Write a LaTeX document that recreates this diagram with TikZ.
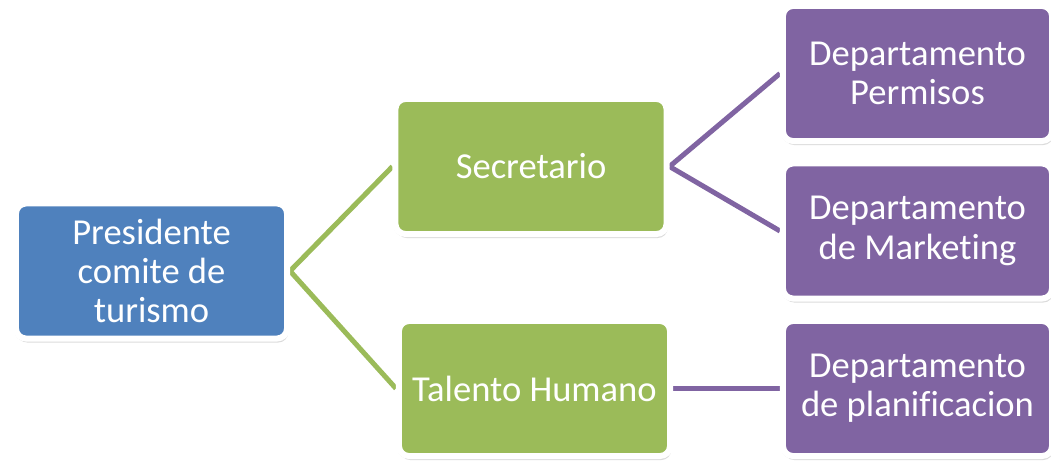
\documentclass[tikz,border=0pt]{standalone}
\usepackage{fontspec}
\setmainfont[Ligatures={NoCommon}]{Carlito}
\usepackage{tikz}
\usetikzlibrary{shadows,backgrounds,positioning}

\definecolor{presblue}{HTML}{4F81BD}
\definecolor{midgreen}{HTML}{9BBB59}
\definecolor{deptpurple}{HTML}{8064A2}

\begin{document}
\begin{tikzpicture}[
    x=0.025cm, y=-0.025cm,
    card/.style={draw=white, line width=0.15cm, rectangle, rounded corners=2.5mm, minimum width=6.775cm, minimum height=3.375cm, align=center, text=white, font=\fontsize{26}{28}\selectfont, inner sep=0pt,
        drop shadow={shadow xshift=0mm, shadow yshift=-0.4mm, shadow scale=1.012, opacity=0.12, fill=black},
        drop shadow={shadow xshift=0.3mm, shadow yshift=-1mm, opacity=0.14, fill=black}},
    pres/.style={card, fill=presblue},
    mid/.style={card, fill=midgreen},
    dept/.style={card, fill=deptpurple, minimum width=6.725cm},
    greenlink/.style={line width=0.125cm, color=midgreen},
    purplelink/.style={line width=0.125cm, color=deptpurple}
]
\useasboundingbox (0,0) rectangle (1051,463);

% Levels
\node[pres] (pres) at (151.5, 271) {Presidente\\comite de\\turismo};
\node[mid] (sec) at (531, 166.5) {Secretario};
\node[mid] (tal) at (534.5, 388.5) {Talento Humano};
\node[dept] (perm) at (917.5, 73.5) {Departamento\\Permisos};
\node[dept] (mkt) at (917.5, 231) {Departamento\\de Marketing};
\node[dept] (plan) at (917.5, 388.5) {Departamento\\de planificacion};

% Connectors
\begin{scope}[on background layer]
\draw[greenlink] (pres.east) -- (sec.west);
\draw[greenlink] (pres.east) -- (tal.west);
\draw[purplelink] (sec.east) -- (perm.west);
\draw[purplelink] (sec.east) -- (mkt.west);
\draw[purplelink] (tal.east) -- (plan.west);
\end{scope}

\end{tikzpicture}
\end{document}
